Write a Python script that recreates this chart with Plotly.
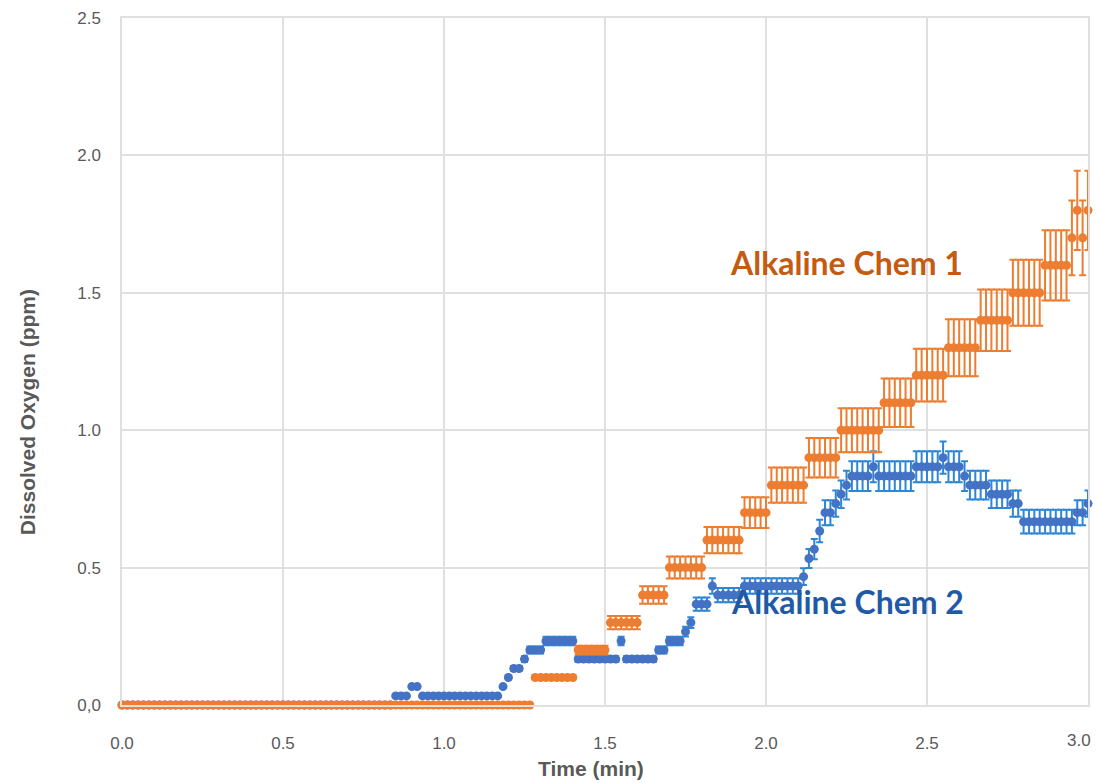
import plotly.graph_objects as go

# Sampling time in seconds (one reading per second, 0..180 s = 0..3 min)
time_s = list(range(181))

# Alkaline Chem 1 (orange) dissolved oxygen, ppm
chem1_do = [
    0, 0, 0, 0, 0, 0, 0, 0, 0, 0, 0, 0, 0, 0, 0, 0, 0, 0, 0, 0,
    0, 0, 0, 0, 0, 0, 0, 0, 0, 0, 0, 0, 0, 0, 0, 0, 0, 0, 0, 0,
    0, 0, 0, 0, 0, 0, 0, 0, 0, 0, 0, 0, 0, 0, 0, 0, 0, 0, 0, 0,
    0, 0, 0, 0, 0, 0, 0, 0, 0, 0, 0, 0, 0, 0, 0, 0, 0, 0.1, 0.1, 0.1,
    0.1, 0.1, 0.1, 0.1, 0.1, 0.2, 0.2, 0.2, 0.2, 0.2, 0.2, 0.3, 0.3, 0.3, 0.3, 0.3, 0.3, 0.4, 0.4, 0.4,
    0.4, 0.4, 0.5, 0.5, 0.5, 0.5, 0.5, 0.5, 0.5, 0.6, 0.6, 0.6, 0.6, 0.6, 0.6, 0.6, 0.7, 0.7, 0.7, 0.7,
    0.7, 0.8, 0.8, 0.8, 0.8, 0.8, 0.8, 0.8, 0.9, 0.9, 0.9, 0.9, 0.9, 0.9, 1.0, 1.0, 1.0, 1.0, 1.0, 1.0,
    1.0, 1.0, 1.1, 1.1, 1.1, 1.1, 1.1, 1.1, 1.2, 1.2, 1.2, 1.2, 1.2, 1.2, 1.3, 1.3, 1.3, 1.3, 1.3, 1.3,
    1.4, 1.4, 1.4, 1.4, 1.4, 1.4, 1.5, 1.5, 1.5, 1.5, 1.5, 1.5, 1.6, 1.6, 1.6, 1.6, 1.6, 1.7, 1.8, 1.7,
    1.8,
]

# Alkaline Chem 2 (blue) dissolved oxygen, ppm
chem2_do = [
    0, 0, 0, 0, 0, 0, 0, 0, 0, 0, 0, 0, 0, 0, 0, 0, 0, 0, 0, 0,
    0, 0, 0, 0, 0, 0, 0, 0, 0, 0, 0, 0, 0, 0, 0, 0, 0, 0, 0, 0,
    0, 0, 0, 0, 0, 0, 0, 0, 0, 0, 0, 0.033, 0.033, 0.033, 0.067, 0.067, 0.033, 0.033, 0.033, 0.033,
    0.033, 0.033, 0.033, 0.033, 0.033, 0.033, 0.033, 0.033, 0.033, 0.033, 0.033, 0.067, 0.1, 0.133, 0.133, 0.167, 0.2, 0.2, 0.2, 0.233,
    0.233, 0.233, 0.233, 0.233, 0.233, 0.167, 0.167, 0.167, 0.167, 0.167, 0.167, 0.167, 0.167, 0.233, 0.167, 0.167, 0.167, 0.167, 0.167, 0.167,
    0.2, 0.2, 0.233, 0.233, 0.233, 0.267, 0.3, 0.367, 0.367, 0.367, 0.433, 0.4, 0.4, 0.4, 0.4, 0.4, 0.433, 0.433, 0.433, 0.433,
    0.433, 0.433, 0.433, 0.433, 0.433, 0.433, 0.433, 0.467, 0.533, 0.567, 0.633, 0.7, 0.7, 0.733, 0.767, 0.8, 0.833, 0.833, 0.833, 0.833,
    0.867, 0.833, 0.833, 0.833, 0.833, 0.833, 0.833, 0.833, 0.867, 0.867, 0.867, 0.867, 0.867, 0.9, 0.867, 0.867, 0.867, 0.833, 0.8, 0.8,
    0.8, 0.8, 0.767, 0.767, 0.767, 0.767, 0.733, 0.733, 0.667, 0.667, 0.667, 0.667, 0.667, 0.667, 0.667, 0.667, 0.667, 0.667, 0.7, 0.7,
    0.733,
]

# Error bars as percentage of value
chem1_err_pct = 8.0
chem2_err_pct = 6.5

x_tick_vals = [0.0, 0.5, 1.0, 1.5, 2.0, 2.5, 3.0]
x_tick_text = ["0.0", "0.5", "1.0", "1.5", "2.0", "2.5", "3.0"]
y_tick_vals = [0.0, 0.5, 1.0, 1.5, 2.0, 2.5]
y_tick_text = ["0,0", "0.5", "1.0", "1.5", "2.0", "2.5"]

time_min = [t / 60 for t in time_s]

ORANGE = "#ED7D31"
BLUE_MARK = "#4472C4"
BLUE_ERR = "#2E86D6"
GRID = "#E0E0E0"
TXT = "#595959"
FONT = "Liberation Sans, Arial, sans-serif"

fig = go.Figure()
fig.add_trace(go.Scatter(
    x=time_min, y=chem2_do, mode="markers", name="Alkaline Chem 2",
    marker=dict(color=BLUE_MARK, size=9, line=dict(width=0)),
    error_y=dict(type="percent", value=chem2_err_pct, color=BLUE_ERR,
                 thickness=2, width=3.5),
    cliponaxis=False,
))
fig.add_trace(go.Scatter(
    x=time_min, y=chem1_do, mode="markers", name="Alkaline Chem 1",
    marker=dict(color=ORANGE, size=9, line=dict(width=0)),
    error_y=dict(type="percent", value=chem1_err_pct, color=ORANGE,
                 thickness=2, width=3.5),
    cliponaxis=False,
))

# last x tick label drawn as annotation so it is not hidden at the page edge
main_x_vals = x_tick_vals[:-1]
main_x_text = x_tick_text[:-1]

fig.update_layout(
    width=1097, height=783,
    margin=dict(l=122, r=7, t=18, b=78),
    paper_bgcolor="white", plot_bgcolor="white",
    showlegend=False,
    font=dict(family=FONT, size=17, color=TXT),
    xaxis=dict(range=[0, 3], tickvals=main_x_vals, ticktext=main_x_text,
               showgrid=True, gridcolor=GRID, gridwidth=1.5,
               showline=True, linecolor=GRID, linewidth=1.5, mirror=True,
               zeroline=False, ticks="", ticklabelstandoff=22,
               tickfont=dict(size=17, color=TXT)),
    yaxis=dict(range=[0, 2.5], tickvals=y_tick_vals, ticktext=y_tick_text,
               showgrid=True, gridcolor=GRID, gridwidth=1.5,
               showline=True, linecolor=GRID, linewidth=1.5, mirror=True,
               zeroline=False, ticks="", ticklabelstandoff=16,
               tickfont=dict(size=17, color=TXT)),
    annotations=[
        dict(text=x_tick_text[-1], xref="x", yref="paper",
             x=x_tick_vals[-1], y=-(741 - 705) / (705 - 18),
             showarrow=False, font=dict(size=17, color=TXT, family=FONT),
             xanchor="right", yanchor="middle", xshift=5),
        dict(text="<b>Time (min)</b>", xref="paper", yref="paper",
             x=(592 - 122) / (1090 - 122), y=-(768 - 705) / (705 - 18),
             showarrow=False, font=dict(size=21, color=TXT, family=FONT),
             xanchor="center", yanchor="middle"),
        dict(text="<b>Dissolved Oxygen (ppm)</b>", xref="paper", yref="paper",
             x=-(122 - 28) / (1090 - 122), y=(705 - 412) / (705 - 18),
             textangle=-90, showarrow=False,
             font=dict(size=21, color=TXT, family=FONT),
             xanchor="center", yanchor="middle"),
        dict(text="<b>Alkaline Chem 1</b>", xref="paper", yref="paper",
             x=(848 - 122) / (1090 - 122), y=(705 - 262) / (705 - 18),
             showarrow=False, font=dict(size=32, color="#C55A11", family="Lato"),
             xanchor="center", yanchor="middle"),
        dict(text="<b>Alkaline Chem 2</b>", xref="paper", yref="paper",
             x=(849 - 122) / (1090 - 122), y=(705 - 601) / (705 - 18),
             showarrow=False, font=dict(size=32, color="#1F5AA6", family="Lato"),
             xanchor="center", yanchor="middle"),
    ],
)

fig.write_html("out.html")
